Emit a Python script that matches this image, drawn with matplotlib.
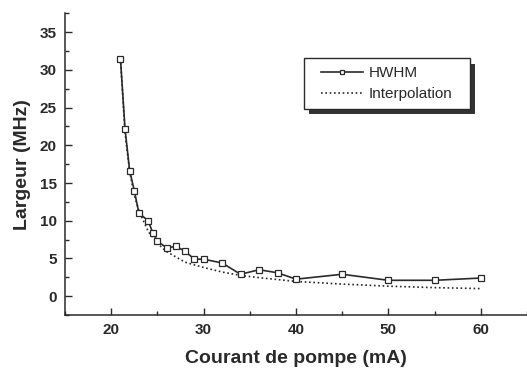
import numpy as np
import matplotlib
matplotlib.use('Agg')
import matplotlib.pyplot as plt
from matplotlib.patches import Rectangle
from matplotlib.ticker import MultipleLocator

# HWHM measured points
current = [21, 21.5, 22, 22.5, 23, 24, 24.5, 25, 26, 27, 28, 29, 30, 32, 34, 36, 38, 40, 45, 50, 55, 60]
hwhm = [31.5, 22.1, 16.6, 14.0, 11.0, 10.0, 8.4, 7.3, 6.4, 6.6, 5.95, 4.9, 4.9, 4.4, 2.9, 3.5, 3.1, 2.25, 2.9, 2.1, 2.1, 2.4]

# interpolation curve
interp_x = [21, 21.5, 22, 22.5, 23, 24, 25, 26, 28, 30, 32, 34, 36, 38, 40, 45, 50, 55, 60]
interp_y = [31.5, 21.6, 16.5, 13.4, 11.3, 8.6, 7.0, 5.9, 4.5, 3.8, 3.2, 2.75, 2.45, 2.2, 1.95, 1.6, 1.32, 1.13, 1.0]

txt = '#2a2a2a'
plt.rcParams['font.family'] = ['Liberation Sans', 'DejaVu Sans']

fig = plt.figure(figsize=(5.27, 3.69), dpi=100)
ax = fig.add_axes([65/527, (369-315)/369, 462/527, 301.7/369])

ax.plot(interp_x, interp_y, color=txt, lw=1.2, ls=(0, (1, 1.6)), label='Interpolation', zorder=2)
ax.plot(current, hwhm, color=txt, lw=1.2, marker='s', ms=4.2, mfc='white',
        mec=txt, mew=0.9, label='HWHM', zorder=3)

ax.set_xlim(15, 65)
ax.set_ylim(-2.5, 37.5)
ax.xaxis.set_major_locator(MultipleLocator(10))
ax.xaxis.set_minor_locator(MultipleLocator(5))
ax.yaxis.set_major_locator(MultipleLocator(5))
ax.yaxis.set_minor_locator(MultipleLocator(2.5))
ax.tick_params(which='both', direction='in', colors=txt, width=1)
ax.tick_params(which='major', length=5, labelsize=11, pad=6)
ax.tick_params(which='minor', length=3)
for lab in ax.get_xticklabels() + ax.get_yticklabels():
    lab.set_fontweight('bold')
for s in ['top', 'right']:
    ax.spines[s].set_visible(False)
for s in ['left', 'bottom']:
    ax.spines[s].set_color(txt)
    ax.spines[s].set_linewidth(1.1)

ax.set_xlabel('Courant de pompe (mA)', fontsize=14, fontweight='bold', color=txt, labelpad=9)
ax.set_ylabel('Largeur (MHz)', fontsize=14, fontweight='bold', color=txt, labelpad=6)

# legend box with drop shadow
bx0, bx1, by0, by1 = 0.5173, 0.8766, 0.683, 0.851
ax.add_patch(Rectangle((bx0 + 0.0108, by0 - 0.018), bx1 - bx0, by1 - by0, transform=ax.transAxes,
                       facecolor='#333333', edgecolor='none', zorder=5, clip_on=False))
ax.add_patch(Rectangle((bx0, by0), bx1 - bx0, by1 - by0, transform=ax.transAxes,
                       facecolor='white', edgecolor=txt, lw=1, zorder=6, clip_on=False))
h, l = ax.get_legend_handles_labels()
leg = ax.legend(h[::-1], l[::-1], loc='center', bbox_to_anchor=((bx0 + bx1) / 2, (by0 + by1) / 2),
                frameon=False, fontsize=11, handlelength=2.7, handletextpad=0.4, labelspacing=0.45)
leg.set_zorder(7)
leg.legend_handles[0].set_markersize(3)
for t in leg.get_texts():
    t.set_color(txt)

fig.savefig('out.png', dpi=100)
